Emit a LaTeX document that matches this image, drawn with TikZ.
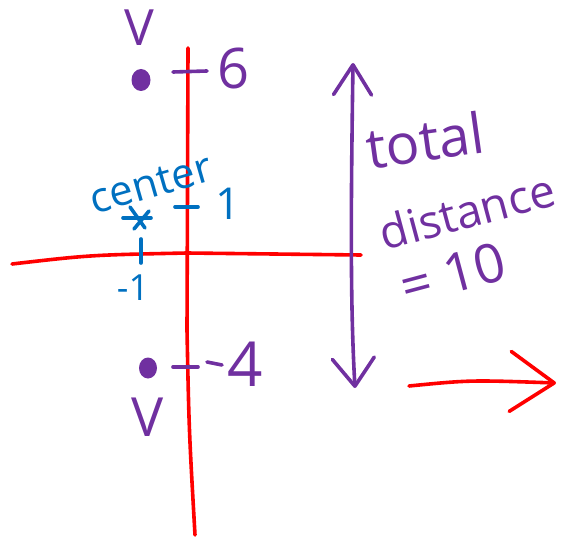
\documentclass[tikz,border=0pt]{standalone}
\usepackage{fontspec}
\setmainfont{Open Sans}
\usetikzlibrary{arrows.meta}
\definecolor{pen}{RGB}{112,48,160}
\definecolor{ink}{RGB}{0,112,192}
\definecolor{redpen}{RGB}{255,0,0}
\begin{document}
\begin{tikzpicture}[x=1pt,y=-1pt,
  stroke/.style={line width=3.6pt,line cap=round,line join=round},
  axis/.style={stroke,draw=redpen},
  ptxt/.style={text=pen,inner sep=0pt},
  btxt/.style={text=ink,inner sep=0pt},
  dot/.style={ellipse,fill=pen,minimum width=19pt,minimum height=22pt,inner sep=0pt},
  fs/.style={font=\fontsize{#1}{#1}\selectfont}]
\useasboundingbox (0,0) rectangle (561,540);
% axes
\coordinate (vtop) at (188,48);
\coordinate (vmid) at (187,330);
\coordinate (vbot) at (195,535);
\coordinate (hleft) at (12,264);
\coordinate (hmid) at (187,253);
\coordinate (hright) at (361,255);
\draw[axis] (vtop) -- (vmid) .. controls (189,430) .. (vbot);
\draw[axis] (hleft) .. controls (90,255) .. (hmid) -- (hright);
% top point
\fill[pen] (141,80) ellipse [x radius=9.5pt, y radius=11pt];
\coordinate (ptop) at (141,80);
\node[ptxt,fs=50] (vtoplbl) at (139,28) {V};
\coordinate (t6a) at (173,72);
\coordinate (t6b) at (207,71);
\draw[stroke,pen] (t6a) -- (t6b);
\node[ptxt,fs=56] (six) at (234,68) {6};
% bottom point
\coordinate (pbot) at (148,368);
\fill[pen] (pbot) ellipse [x radius=9pt, y radius=10.5pt];
\node[ptxt,fs=54] (vbotlbl) at (148,417) {V};
\coordinate (t4a) at (173,367);
\coordinate (t4b) at (198,367);
\coordinate (m4a) at (207,362);
\coordinate (m4b) at (222,365);
\draw[stroke,pen] (t4a) -- (t4b);
\draw[stroke,pen] (m4a) -- (m4b);
\node[ptxt,fs=62] (four) at (245,364) {4};
% center
\node[btxt,fs=42,rotate=16] (centerlbl) at (151,184) {center};
\coordinate (star) at (137,218);
\draw[stroke,ink] ([shift={(-14,0)}]star) -- ([shift={(14,0)}]star);
\draw[stroke,ink] ([shift={(-7,-11)}]star) -- ([shift={(8,10)}]star);
\draw[stroke,ink] ([shift={(12,-7)}]star) -- ([shift={(-3,11)}]star);
\coordinate (t1a) at (175,207);
\coordinate (t1b) at (198,207);
\draw[stroke,ink] (t1a) -- (t1b);
\node[btxt,fs=44] (one) at (228,204) {1};
\coordinate (bar1) at (141,239);
\coordinate (bar2) at (141,263);
\draw[stroke,ink] (bar1) -- (bar2);
\node[btxt,fs=36] (mone) at (133,288) {-1};
% distance arrow
\coordinate (atop) at (353,63);
\coordinate (abot) at (355,388);
\draw[stroke,pen,{Straight Barb[length=30pt,width=38pt,round]}-{Straight Barb[length=28pt,width=42pt,round]}] (atop) .. controls (351,200) and (350,300) .. (abot);
\node[ptxt,fs=56,rotate=8] (total) at (425,140) {total};
\node[ptxt,fs=46,rotate=15] (distance) at (467,211) {distance};
\node[ptxt,fs=54,rotate=15] (eq) at (453,274) {= 10};
% red arrow
\coordinate (rstart) at (409,386);
\coordinate (rend) at (556,383);
\draw[axis,-{Straight Barb[length=44pt,width=60pt,round]}] (rstart) .. controls (470,380) .. (rend);
\end{tikzpicture}
\end{document}
